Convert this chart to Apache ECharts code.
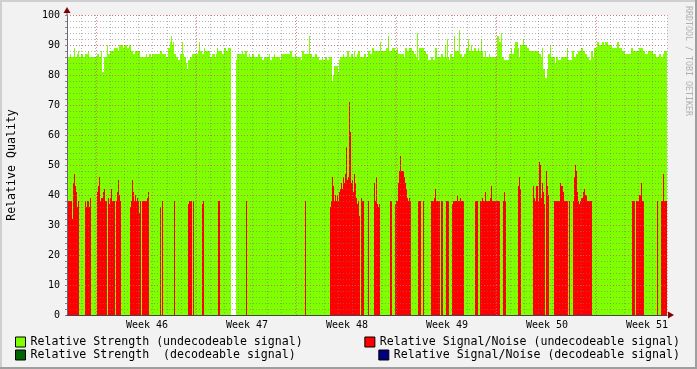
<!DOCTYPE html>
<html><head><meta charset="utf-8">
<script src="https://cdn.jsdelivr.net/npm/echarts@6/dist/echarts.min.js"></script>
<style>html,body{margin:0;padding:0;background:#F2F2F2}#c{width:697px;height:369px}</style>
</head><body><div id="c"></div>
<script>
// one value per time step (6 weeks, ~1008 s steps)
const strengthUndecodeable = [
86,86,86,87,86,86,86,89,86,86, 87,88,86,86,87,87,86,86,87,87,
87,88,86,86,86,86,86,86,86,86, 87,87,86,86,88,81,81,86,86,86,
90,87,87,88,88,88,88,89,89,89, 89,88,90,90,90,90,89,90,90,90,
89,89,90,90,88,88,87,87,88,88, 88,88,88,86,86,86,86,86,86,87,
86,86,87,87,86,87,87,87,87,87, 87,87,87,88,88,87,87,87,87,86,
86,89,89,91,93,90,91,87,87,86, 86,85,85,87,87,91,87,86,86,84,
82,85,85,86,86,87,87,87,87,87, 87,88,91,88,88,87,87,89,88,88,
88,88,88,86,86,87,87,87,86,87, 89,88,88,88,88,87,87,89,89,88,
88,89,89,89,0,0,0,0,0,85, 87,87,87,87,87,88,87,87,88,88,
86,86,87,86,86,87,87,86,86,86, 86,87,87,86,86,85,85,86,86,86,
86,86,87,85,85,86,86,87,86,86, 86,86,86,85,87,87,87,87,87,87,
87,87,87,88,88,86,86,86,87,86, 86,86,86,86,85,88,88,87,87,87,
87,87,93,87,87,86,86,86,87,87, 86,86,85,85,85,86,85,85,86,86,
85,85,86,86,86,78,80,83,83,83, 83,81,85,86,86,86,87,86,86,86,
88,88,86,86,87,87,86,88,86,86, 87,88,88,86,86,86,86,87,87,86,
86,88,88,87,87,89,89,88,88,88, 88,88,88,91,88,88,88,88,88,89,
89,93,88,88,88,89,89,89,88,88, 89,87,87,87,87,87,87,86,89,89,
88,88,89,89,89,88,88,87,87,86, 94,85,89,89,89,89,89,88,88,87,
87,85,85,85,86,86,85,85,89,89, 86,86,86,86,87,87,86,86,90,86,
92,86,85,87,87,86,86,93,88,88, 88,88,95,87,87,86,86,87,87,89,
89,92,88,88,90,88,88,89,89,88, 88,89,88,88,92,88,86,86,88,86,
86,86,87,86,86,86,86,86,86,86, 93,93,91,91,94,86,86,85,85,85,
85,85,87,87,89,87,87,89,91,91, 91,89,86,90,90,90,92,90,90,90,
89,89,88,88,88,88,88,88,88,88, 88,88,87,87,86,89,82,82,79,79,
82,87,87,90,86,86,86,86,84,86, 86,85,85,85,86,86,86,86,86,86,
89,85,85,85,85,88,88,86,86,87, 87,88,88,88,89,89,88,88,87,87,
86,86,85,85,88,88,86,89,89,89, 91,91,90,90,90,91,91,90,91,91,
91,90,90,90,90,89,89,89,89,89, 91,91,89,89,89,88,88,88,87,87,
87,87,87,87,89,89,88,88,88,88, 88,88,89,89,89,89,88,88,87,87,
87,88,88,88,88,88,87,87,87,86, 86,86,87,87,86,86,87,88,88,88
];
const snrUndecodeable = [
39,38,38,38,38,32,44,47,43,41, 36,38,0,0,0,0,0,0,38,36,
38,38,36,39,0,0,0,0,0,0, 41,43,46,38,39,39,41,42,38,38,
0,39,37,39,42,38,38,38,0,38, 41,45,40,38,0,0,0,0,0,0,
0,0,0,36,38,45,41,38,40,38, 39,38,34,38,0,38,38,38,38,38,
39,41,0,0,0,0,0,0,0,0, 0,0,0,36,0,38,0,0,0,0,
0,0,0,0,0,0,0,38,0,0, 0,0,0,0,0,0,0,0,0,0,
0,37,38,38,38,0,38,0,0,0, 0,0,0,0,0,37,38,0,0,0,
0,0,0,0,0,0,0,0,0,0, 0,38,38,0,0,0,0,0,0,0,
0,0,0,0,0,0,0,0,0,0, 0,0,0,0,0,0,0,0,0,38,
0,0,0,0,0,0,0,0,0,0, 0,0,0,0,0,0,0,0,0,0,
0,0,0,0,0,0,0,0,0,0, 0,0,0,0,0,0,0,0,0,0,
0,0,0,0,0,0,0,0,0,0, 0,0,0,0,0,0,0,0,38,0,
0,0,0,0,0,0,0,0,0,0, 0,0,0,0,0,0,0,0,0,0,
0,0,0,36,38,46,43,38,40,38, 40,38,41,42,44,42,46,44,47,56,
45,46,71,61,44,45,41,47,44,39, 37,38,33,0,39,38,38,0,0,0,
0,38,0,0,0,0,0,44,38,46, 37,36,37,0,0,0,0,0,0,0,
0,0,0,38,38,0,0,0,37,38, 38,44,48,53,48,48,48,46,44,42,
39,38,39,38,0,0,0,0,0,0, 0,38,38,38,0,0,38,0,0,0,
0,0,0,0,38,38,38,39,42,38, 38,38,38,0,38,38,0,0,0,38,
38,38,0,0,0,37,38,38,38,38, 40,38,38,39,38,38,38,0,0,0,
0,0,0,0,0,0,0,0,38,38, 38,0,0,38,38,39,38,38,41,38,
38,38,38,39,43,38,38,38,38,38, 38,38,38,0,0,0,38,41,38,0,
0,0,0,0,0,0,0,0,0,0, 0,43,46,42,0,0,0,0,0,0,
0,0,0,0,0,0,43,39,38,43, 43,38,51,50,39,44,41,37,0,48,
43,40,0,0,0,0,0,38,38,38, 38,38,38,44,43,43,41,38,38,38,
38,0,38,0,0,0,38,46,50,48, 41,38,37,38,39,39,41,42,40,40,
38,38,38,38,38,0,0,0,0,0, 0,0,0,0,0,0,0,0,0,0,
0,0,0,0,0,0,0,0,0,0, 0,0,0,0,0,0,0,0,0,0,
0,0,0,0,0,38,38,38,0,38, 38,38,40,40,44,38,38,0,0,0,
0,0,0,0,0,0,0,0,0,0, 38,0,0,0,38,38,47,38,38,38
];
const strengthDecodeable = [];
const snrDecodeable = [];
const weekLabels = ['Week 46','Week 47','Week 48','Week 49','Week 50','Week 51'];
const seriesNames = [
  'Relative Strength (undecodeable signal)',
  'Relative Strength  (decodeable signal)',
  'Relative Signal/Noise (undecodeable signal)',
  'Relative Signal/Noise (decodeable signal)'
];

const MONO = 'DejaVu Sans Mono';
function stepSeries(name, arr, color){
  return {
    name, type:'custom', xAxisIndex:0, yAxisIndex:0, silent:true, animation:false,
    itemStyle:{color},
    data: arr.map((v,i)=>[i,v]),
    renderItem:(params, api)=>{
      const v = api.value(1);
      if (!v) return null;
      const x = api.value(0);
      const p0 = api.coord([x, v]);
      const p1 = api.coord([x+1, 0]);
      return {type:'rect', shape:{x:p0[0], y:p0[1], width:p1[0]-p0[0], height:p1[1]-p0[1]},
              style:{fill:color}};
    }
  };
}
const chart = echarts.init(document.getElementById('c'), null, {renderer:'canvas'});
const gridCol = 'rgba(120,120,120,0.55)';
const mgridCol = 'rgba(230,90,90,0.7)';
const legendCommon = {
  orient:'horizontal', padding:0, itemWidth:10, itemHeight:10, icon:'rect',
  itemStyle:{borderColor:'#000', borderWidth:1}, selectedMode:false,
  textStyle:{fontFamily:MONO, fontSize:11.6, color:'#000'}
};
const red = stepSeries(seriesNames[2], snrUndecodeable, '#FF0000');
red.markLine = {
  silent:true, symbol:'none', label:{show:false}, animation:false,
  lineStyle:{color:mgridCol, type:[1,2], width:1},
  data:[29.5,129.5,229.5,329.5,429.5,529.5].map(x=>({xAxis:x}))
};
chart.setOption({
  animation:false,
  backgroundColor:'#F2F2F2',
  grid:{left:67, top:15, width:600, height:300, show:true, backgroundColor:'#fff', borderWidth:0,
        containLabel:false, outerBoundsMode:'none'},
  xAxis:[
    {type:'value', min:0, max:600, interval:20, position:'bottom', z:6,
     axisLine:{show:true, lineStyle:{color:'#444455', width:1}},
     axisTick:{show:false}, splitLine:{show:false},
     axisLabel:{margin:5, fontFamily:MONO, fontSize:10, color:'#000', hideOverlap:false,
       formatter:v=>(v>=80 && (v-80)%100===0) ? (weekLabels[(v-80)/100]||'') : ''}},
    {type:'value', min:0, max:42, interval:1, position:'top', z:5,
     axisLine:{show:false}, axisTick:{show:false}, axisLabel:{show:false},
     splitLine:{show:true, lineStyle:{color:gridCol, type:[1,2], width:1}}}
  ],
  yAxis:[
    {type:'value', min:0, max:100, interval:2, z:5,
     axisLine:{show:true, lineStyle:{color:'#666670', width:1}},
     axisTick:{show:true, length:2, lineStyle:{color:'#888'}},
     axisLabel:{margin:7, fontFamily:MONO, fontSize:10, color:'#000',
       formatter:v=>v%10===0 ? String(v) : ''},
     splitLine:{show:true, lineStyle:{color:gridCol, type:[1,2], width:1}},
     name:'Relative Quality', nameLocation:'middle', nameGap:49,
     nameTextStyle:{fontFamily:MONO, fontSize:11.6, color:'#000'}},
    {type:'value', min:0, max:100, interval:10, position:'right', z:6,
     axisLine:{show:false}, axisTick:{show:false}, axisLabel:{show:false},
     splitLine:{show:true, lineStyle:{color:mgridCol, type:[1,2], width:1}}}
  ],
  legend:[
    Object.assign({data:[seriesNames[0]], left:15, top:336}, legendCommon),
    Object.assign({data:[seriesNames[2]], right:17, top:336}, legendCommon),
    Object.assign({data:[seriesNames[1]], left:15, top:349}, legendCommon),
    Object.assign({data:[seriesNames[3]], right:17, top:349}, legendCommon)
  ],
  series:[
    stepSeries(seriesNames[0], strengthUndecodeable, '#7FFF00'),
    stepSeries(seriesNames[1], strengthDecodeable, '#006400'),
    red,
    stepSeries(seriesNames[3], snrDecodeable, '#000080')
  ],
  graphic:[
    {type:'rect', silent:true, shape:{x:0,y:0,width:697,height:2}, style:{fill:'#CFCFCF'}},
    {type:'rect', silent:true, shape:{x:0,y:0,width:2,height:369}, style:{fill:'#CFCFCF'}},
    {type:'rect', silent:true, shape:{x:695,y:0,width:2,height:369}, style:{fill:'#9E9E9E'}},
    {type:'rect', silent:true, shape:{x:0,y:367,width:697,height:2}, style:{fill:'#9E9E9E'}},
    {type:'rect', silent:true, z:10, shape:{x:66.5,y:10,width:1,height:5}, style:{fill:'#666670'}},
    {type:'polygon', silent:true, z:10, shape:{points:[[67,7],[63.5,13],[70.5,13]]}, style:{fill:'#800000'}},
    {type:'polygon', silent:true, z:10, shape:{points:[[674,315],[668,311.5],[668,318.5]]}, style:{fill:'#800000'}},
    {type:'text', silent:true, x:688, y:6, rotation:-Math.PI/2,
     style:{text:'RRDTOOL / TOBI OETIKER', fontFamily:MONO, fontSize:8.3, fill:'#B0B0B0', align:'left', verticalAlign:'middle'}}
  ]
});
</script></body></html>
